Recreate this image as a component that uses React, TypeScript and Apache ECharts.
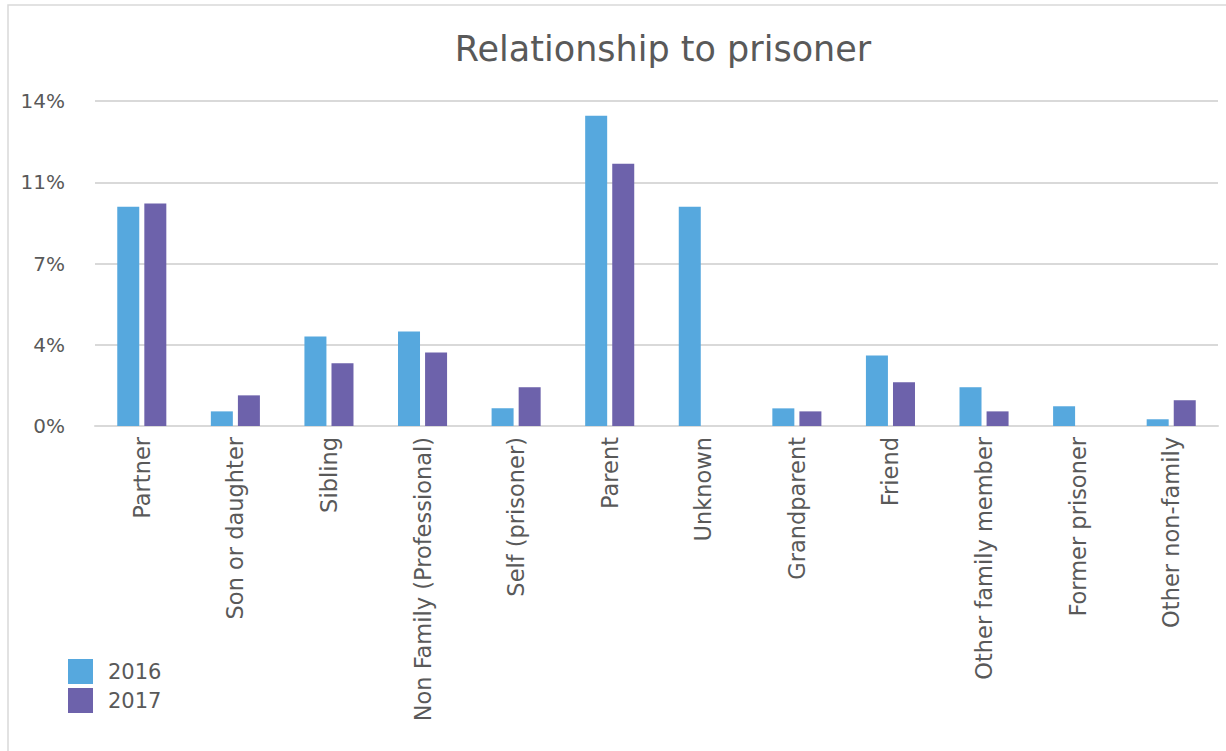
import React, { useEffect, useRef } from "react";
import * as echarts from "echarts";

const categories = [
  "Partner",
  "Son or daughter",
  "Sibling",
  "Non Family (Professional)",
  "Self (prisoner)",
  "Parent",
  "Unknown",
  "Grandparent",
  "Friend",
  "Other family member",
  "Former prisoner",
  "Other non-family",
];
const values2016 = [9.45, 0.63, 3.86, 4.07, 0.76, 13.37, 9.45, 0.76, 3.04, 1.67, 0.85, 0.29];
const values2017 = [9.58, 1.32, 2.7, 3.17, 1.67, 11.3, 0, 0.63, 1.88, 0.63, 0, 1.11];
const yTicks = { min: 0, max: 14, interval: 3.5 };

const FONT = "'DejaVu Sans', sans-serif";
const TEXT = "#595959";

export default function App() {
  const ref = useRef<HTMLDivElement>(null);
  useEffect(() => {
    if (!ref.current) return;
    const chart = echarts.init(ref.current, null, { renderer: "svg" });
    chart.setOption({
      animation: false,
      backgroundColor: "#ffffff",
      title: {
        text: "Relationship to prisoner",
        left: 658,
        top: 26,
        textAlign: "center",
        textStyle: { fontFamily: FONT, fontSize: 35, fontWeight: "normal", color: TEXT },
      },
      graphic: [
        {
          type: "rect",
          shape: { x: 8, y: 5, width: 1240, height: 780 },
          style: { fill: "none", stroke: "#d9d9d9", lineWidth: 1.5 },
          silent: true,
        },
      ],
      legend: {
        orient: "vertical",
        left: 68,
        top: 659,
        padding: 0,
        itemWidth: 25,
        itemHeight: 25,
        itemGap: 4,
        icon: "rect",
        textStyle: { fontFamily: FONT, fontSize: 21, color: TEXT, padding: [0, 0, 0, 10] },
        data: ["2016", "2017"],
      },
      grid: { left: 95, right: 8, top: 101, bottom: 325, containLabel: false },
      xAxis: {
        type: "category",
        data: categories,
        axisLine: { lineStyle: { color: "#d9d9d9", width: 2 } },
        axisTick: { show: false },
        axisLabel: {
          rotate: 90,
          interval: 0,
          margin: 11,
          fontFamily: FONT,
          fontSize: 22.5,
          color: TEXT,
        },
      },
      yAxis: {
        type: "value",
        min: yTicks.min,
        max: yTicks.max,
        interval: yTicks.interval,
        axisLine: { show: false },
        axisTick: { show: false },
        splitLine: { lineStyle: { color: "#d9d9d9", width: 2 } },
        axisLabel: {
          margin: 30,
          fontFamily: FONT,
          fontSize: 20,
          color: TEXT,
          formatter: (v: number) => Math.round(v) + "%",
        },
      },
      series: [
        {
          name: "2016",
          type: "bar",
          data: values2016,
          barWidth: 22,
          barGap: "23%",
          itemStyle: { color: "#56A8DE" },
        },
        {
          name: "2017",
          type: "bar",
          data: values2017,
          barWidth: 22,
          barGap: "23%",
          itemStyle: { color: "#6D62AB" },
        },
      ],
    });
    return () => chart.dispose();
  }, []);
  return (
    <div
      ref={ref}
      style={{ position: "absolute", left: 0, top: 0, width: 1226, height: 751 }}
    />
  );
}
